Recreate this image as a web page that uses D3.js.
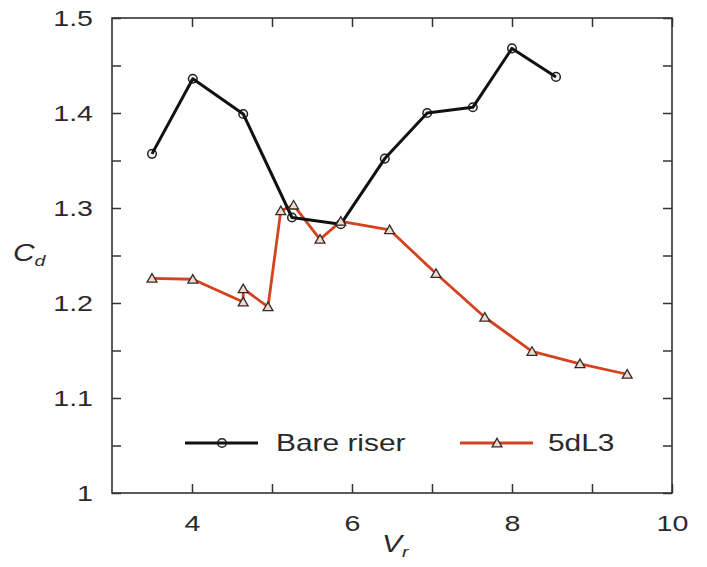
<!DOCTYPE html>
<html>
<head>
<meta charset="utf-8">
<script src="https://cdn.jsdelivr.net/npm/d3@7"></script>
<style>
  body { margin: 0; background: #fff; }
  text { font-family: "Liberation Sans", Arial, sans-serif; fill: #2a2a2a; }
</style>
</head>
<body>
<div id="chart"></div>
<script>
// values
const seriesNames = ["Bare riser", "5dL3"];
const bareVr = [3.5, 4.01, 4.64, 5.25, 5.86, 6.41, 6.94, 7.51, 8.0, 8.55];
const bareCd = [1.357, 1.436, 1.399, 1.290, 1.283, 1.352, 1.400, 1.406, 1.468, 1.438];
const dlVr = [3.5, 4.01, 4.64, 4.64, 4.95, 5.11, 5.27, 5.6, 5.86, 6.47, 7.05, 7.66, 8.25, 8.85, 9.44];
const dlCd = [1.226, 1.225, 1.201, 1.215, 1.196, 1.297, 1.303, 1.267, 1.286, 1.277, 1.231, 1.185, 1.149, 1.136, 1.125];
const xTicks = [4, 5, 6, 7, 8, 9, 10];
const yTicks = [1, 1.05, 1.1, 1.15, 1.2, 1.25, 1.3, 1.35, 1.4, 1.45, 1.5];

const width = 707, height = 567;
const margin = {top: 18, right: 35, bottom: 74, left: 112};
const w = width - margin.left - margin.right;
const h = height - margin.top - margin.bottom;
const stretch = 1.3; // the text in the source is widened

const red = "#d4421e";

const svg = d3.select("#chart").append("svg")
  .attr("width", width)
  .attr("height", height);

const g = svg.append("g").attr("transform", `translate(${margin.left},${margin.top})`);

const x = d3.scaleLinear().domain([3, 10]).range([0, w]);
const y = d3.scaleLinear().domain([1, 1.5]).range([h, 0]);

const fmtX = d => d % 2 === 0 ? d : "";
const fmtY = d => {
  const t = Math.round(d * 100);
  if (t % 10 !== 0) return "";
  return t === 100 ? "1" : (t / 100).toFixed(1);
};

// axes, ticks pointing in
const xb = g.append("g").attr("transform", `translate(0,${h})`)
  .call(d3.axisBottom(x).tickValues(xTicks).tickFormat(fmtX).tickSizeInner(-9).tickSizeOuter(0).tickPadding(22));
const xt = g.append("g")
  .call(d3.axisTop(x).tickValues(xTicks).tickFormat("").tickSizeInner(-9).tickSizeOuter(0));
const yl = g.append("g")
  .call(d3.axisLeft(y).tickValues(yTicks).tickFormat(fmtY).tickSizeInner(-9).tickSizeOuter(0).tickPadding(19));
const yr = g.append("g").attr("transform", `translate(${w},0)`)
  .call(d3.axisRight(y).tickValues(yTicks).tickFormat("").tickSizeInner(-9).tickSizeOuter(0));

[xb, xt, yl, yr].forEach(a => {
  a.select(".domain").remove();
  a.selectAll("line").attr("stroke", "#333").attr("stroke-width", 1.5);
  a.selectAll("text").attr("font-size", 22).style("font-family", "'Liberation Sans', Arial, sans-serif").attr("fill", "#2a2a2a");
});
xb.selectAll("text").attr("transform", `scale(${stretch},1)`);
yl.selectAll("text").attr("x", -19 / stretch).attr("transform", `scale(${stretch},1)`);

g.append("rect")
  .attr("width", w).attr("height", h)
  .attr("fill", "none").attr("stroke", "#333").attr("stroke-width", 1.6);

// series
const bare = bareVr.map((v, i) => [v, bareCd[i]]);
const dl = dlVr.map((v, i) => [v, dlCd[i]]);
const line = d3.line().x(d => x(d[0])).y(d => y(d[1]));

g.append("path").datum(dl)
  .attr("d", line).attr("fill", "none")
  .attr("stroke", red).attr("stroke-width", 2.8).attr("stroke-linejoin", "round");

// open circles sit under the black line
g.selectAll(".circ").data(bare).enter().append("circle")
  .attr("class", "circ")
  .attr("cx", d => x(d[0])).attr("cy", d => y(d[1]))
  .attr("r", 4.3)
  .attr("fill", "#f4f4f4").attr("stroke", "#222").attr("stroke-width", 1.5);

g.append("path").datum(bare)
  .attr("d", line).attr("fill", "none")
  .attr("stroke", "#111").attr("stroke-width", 3).attr("stroke-linejoin", "round");

const tri = d3.symbol().type(d3.symbolTriangle).size(42);

g.selectAll(".tri").data(dl).enter().append("path")
  .attr("class", "tri")
  .attr("transform", d => `translate(${x(d[0])},${y(d[1]) + 1})`)
  .attr("d", tri)
  .attr("fill", "#eadbd3").attr("stroke", "#3a2a25").attr("stroke-width", 1.3);

// legend
const leg = svg.append("g");
const legItems = [
  {name: seriesNames[0], x0: 185, color: "#111", sw: 3, mark: "circle", tx: 276},
  {name: seriesNames[1], x0: 460, color: red, sw: 2.8, mark: "tri", tx: 548}
];
legItems.forEach(it => {
  if (it.mark === "circle") {
    leg.append("circle").attr("cx", it.x0 + 37).attr("cy", 443).attr("r", 4.3)
      .attr("fill", "#f4f4f4").attr("stroke", "#222").attr("stroke-width", 1.5);
  }
  leg.append("line")
    .attr("x1", it.x0).attr("x2", it.x0 + 73).attr("y1", 443).attr("y2", 443)
    .attr("stroke", it.color).attr("stroke-width", it.sw);
  if (it.mark === "tri") {
    leg.append("path").attr("transform", `translate(${it.x0 + 37},444)`).attr("d", tri)
      .attr("fill", "#eadbd3").attr("stroke", "#3a2a25").attr("stroke-width", 1.3);
  }
  leg.append("text")
    .attr("transform", `translate(${it.tx},451) scale(${stretch},1)`)
    .attr("font-size", 23)
    .text(it.name);
});

// axis titles
const xTitle = svg.append("text")
  .attr("transform", `translate(382,552) scale(${stretch},1)`)
  .attr("font-size", 23);
xTitle.append("tspan").attr("font-style", "italic").text("V");
xTitle.append("tspan").attr("font-style", "italic").attr("font-size", 15).attr("dy", 5).text("r");

const yTitle = svg.append("text")
  .attr("transform", `translate(13,261) scale(${stretch},1)`)
  .attr("font-size", 23);
yTitle.append("tspan").attr("font-style", "italic").text("C");
yTitle.append("tspan").attr("font-style", "italic").attr("font-size", 15).attr("dy", 5).text("d");
</script>
</body>
</html>
